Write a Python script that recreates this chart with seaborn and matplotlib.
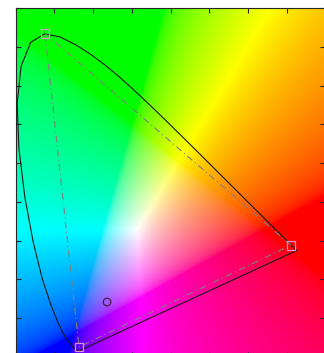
import numpy as np
import pandas as pd
import matplotlib
matplotlib.use("Agg")
import matplotlib.pyplot as plt
import seaborn as sns

# Spectral locus (CIE 1931 xy chromaticity, 445-650 nm)
locus_x = [0.1611, 0.1566, 0.1510, 0.1440, 0.1355, 0.1241, 0.1096, 0.0913,
           0.0687, 0.0454, 0.0235, 0.0082, 0.0039, 0.0139, 0.0389, 0.0743,
           0.1142, 0.1547, 0.1929, 0.2296, 0.2658, 0.3016, 0.3373, 0.3731,
           0.4087, 0.4441, 0.4788, 0.5125, 0.5448, 0.5752, 0.6029, 0.6270,
           0.6482, 0.6658, 0.6801, 0.6915, 0.7006, 0.7079, 0.7140, 0.7190,
           0.7230, 0.7260]
locus_y = [0.0138, 0.0177, 0.0227, 0.0297, 0.0399, 0.0578, 0.0868, 0.1327,
           0.2007, 0.2950, 0.4127, 0.5384, 0.6548, 0.7502, 0.8120, 0.8338,
           0.8262, 0.8059, 0.7816, 0.7543, 0.7243, 0.6923, 0.6589, 0.6245,
           0.5896, 0.5547, 0.5202, 0.4866, 0.4544, 0.4242, 0.3965, 0.3725,
           0.3514, 0.3340, 0.3197, 0.3083, 0.2993, 0.2920, 0.2859, 0.2809,
           0.2770, 0.2740]

# Display primaries (green, red, blue) and a sample chromaticity
prim_x = [0.0757, 0.711, 0.1635]
prim_y = [0.835, 0.288, 0.025]
sample_x = [0.236]
sample_y = [0.141]

# Axis limits and tick positions
x_lim = (0.0, 0.8)
y_lim = (0.0, 0.9)
x_ticks = [0.0, 0.1, 0.2, 0.3, 0.4, 0.5, 0.6, 0.7, 0.8]
y_ticks = [0.0, 0.1, 0.2, 0.3, 0.4, 0.5, 0.6, 0.7, 0.8, 0.9]


def chromaticity_rgb(nx=420, ny=470):
    """xy plane -> normalised, clipped sRGB colours at Y = 1."""
    xs = np.linspace(x_lim[0], x_lim[1], nx)
    ys = np.linspace(y_lim[0] + 1e-3, y_lim[1], ny)
    gx, gy = np.meshgrid(xs, ys)
    X = gx / gy
    Y = np.ones_like(gx)
    Z = (1.0 - gx - gy) / gy
    M = np.array([[3.2406, -1.5372, -0.4986],
                  [-0.9689, 1.8758, 0.0415],
                  [0.0557, -0.2040, 1.0570]])
    xyz = np.stack([X, Y, Z], axis=-1)
    rgb = xyz @ M.T
    rgb = np.clip(rgb, 0, None)
    rgb = rgb / rgb.max(axis=-1, keepdims=True)
    rgb = np.where(rgb <= 0.0031308, 12.92 * rgb,
                   1.055 * np.power(rgb, 1 / 2.4) - 0.055)
    return np.clip(rgb, 0, 1)


sns.set_style("ticks")

W, H = 324, 353
fig = plt.figure(figsize=(W / 100, H / 100), dpi=100)
ax_left, ax_top = 15.7, 8.3
ax_w, ax_h = 309.7, 348.3
ax = fig.add_axes([ax_left / W, (H - ax_top - ax_h) / H, ax_w / W, ax_h / H])

ax.imshow(chromaticity_rgb(), extent=[x_lim[0], x_lim[1], y_lim[0], y_lim[1]],
          origin="lower", aspect="auto", interpolation="bilinear", zorder=0)

# Closed spectral locus with the purple line
locus_df = pd.DataFrame({"x": locus_x + [locus_x[0]], "y": locus_y + [locus_y[0]]})
sns.lineplot(data=locus_df, x="x", y="y", sort=False, estimator=None,
             color="#1a1a1a", linewidth=0.8, ax=ax, zorder=3)

# Gamut triangle
tri_df = pd.DataFrame({"x": prim_x + [prim_x[0]], "y": prim_y + [prim_y[0]]})
sns.lineplot(data=tri_df, x="x", y="y", sort=False, estimator=None,
             color="#808080", linewidth=0.8, linestyle=(0, (6, 3, 1, 3)),
             ax=ax, zorder=3)

sns.scatterplot(x=prim_x, y=prim_y, marker="s", s=40, facecolor="none",
                edgecolor="#e58fd8", linewidth=0.9, ax=ax, zorder=4)
sns.scatterplot(x=sample_x, y=sample_y, marker="o", s=30, facecolor="none",
                edgecolor="#4a1a4a", linewidth=0.9, ax=ax, zorder=4)

ax.set_xlim(*x_lim)
ax.set_ylim(*y_lim)
ax.set_xticks(x_ticks)
ax.set_yticks(y_ticks)
ax.set_xticklabels([])
ax.set_yticklabels([])
ax.set_xlabel("")
ax.set_ylabel("")
ax.tick_params(direction="in", length=3.5, width=0.8, color="#262626",
               top=True, right=True, bottom=True, left=True)
for side in ["left", "top", "right", "bottom"]:
    ax.spines[side].set_visible(True)
    ax.spines[side].set_color("#262626")
    ax.spines[side].set_linewidth(0.8)

fig.savefig("out.png", dpi=100)
